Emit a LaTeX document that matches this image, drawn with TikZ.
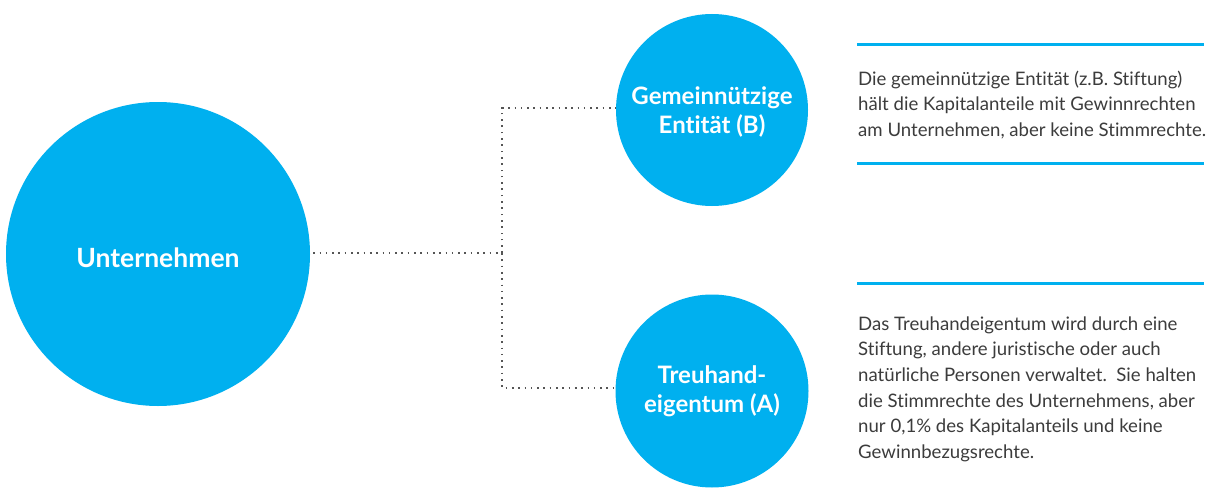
\documentclass[tikz,border=0pt]{standalone}
\usepackage{fontspec}
\setmainfont{Lato}[Ligatures=NoCommon]
\definecolor{cyanblue}{HTML}{00B0EF}
\definecolor{textgray}{HTML}{3C3C3C}
\definecolor{dotgray}{HTML}{555555}
\begin{document}
\begin{tikzpicture}[x=1pt,y=-1pt,
  bubble/.style={circle, fill=cyanblue, inner sep=0pt, text=white, align=center, font=\bfseries},
  dotline/.style={draw=dotgray, line width=1.6pt, dash pattern=on 1.6pt off 4.7pt},
  rule/.style={draw=cyanblue, line width=3pt},
  desc/.style={anchor=base west, inner sep=0pt, align=left, text=textgray, font=\fontsize{18.6}{25.7}\selectfont}
]
\fill[white] (0,0) rectangle (1210,495);
\useasboundingbox (0,0) rectangle (1210,495);

\node[bubble, minimum size=304pt, text height=26pt, text depth=0pt, font=\bfseries\fontsize{26.5}{30}\selectfont] (U) at (158,254) {Unternehmen};
\node[bubble, minimum size=192pt, text height=46pt, text depth=0pt, font=\bfseries\fontsize{24}{29}\selectfont] (B) at (712,110) {Gemeinnützige\\Entität (B)};
\node[bubble, minimum size=193pt, text height=42pt, text depth=0pt, font=\bfseries\fontsize{24}{29}\selectfont] (A) at (712,391) {Treuhand-\\eigentum (A)};

\coordinate (J) at (502,253);
\draw[dotline] ([xshift=3pt]U.east |- J) -- (J);
\draw[dotline] (J) |- ([yshift=2pt]B.west);
\draw[dotline] (J) |- ([yshift=3pt]A.west);

\coordinate (R1a) at (857,45);  \coordinate (R1b) at (1204,45);
\coordinate (R2a) at (857,163); \coordinate (R2b) at (1204,163);
\coordinate (R3a) at (857,283); \coordinate (R3b) at (1204,283);
\draw[rule] (R1a) -- (R1b);
\draw[rule] (R2a) -- (R2b);
\draw[rule] (R3a) -- (R3b);

\node[desc] (TB) at (858,136.4) {Die gemeinnützige Entität (z.B. Stiftung)\\hält die Kapitalanteile mit Gewinnrechten\\am Unternehmen, aber keine Stimmrechte.};
\node[desc] (TA) at (858,458.5) {Das Treuhandeigentum wird durch eine\\Stiftung, andere juristische oder auch\\natürliche Personen verwaltet.\ \ Sie halten\\die Stimmrechte des Unternehmens, aber\\nur 0,1\% des Kapitalanteils und keine\\Gewinnbezugsrechte.};
\end{tikzpicture}
\end{document}
